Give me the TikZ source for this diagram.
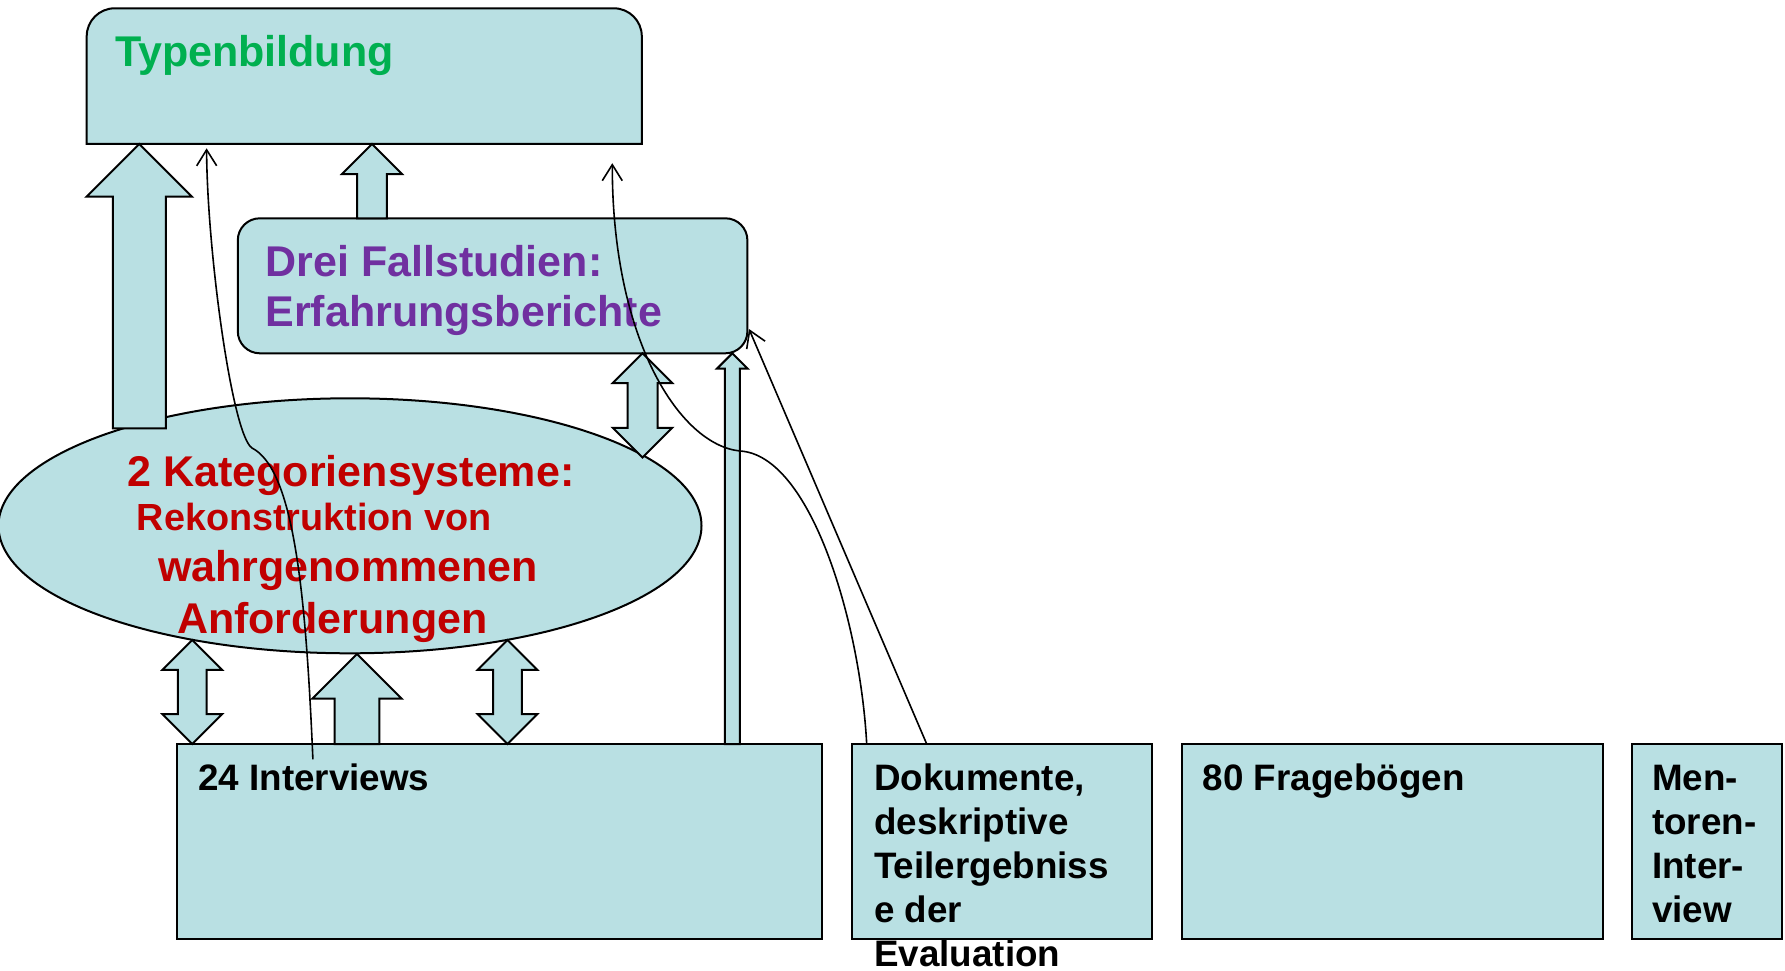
\documentclass[tikz,border=0pt]{standalone}
\usepackage{fontspec}
\setmainfont{Liberation Sans}
\usetikzlibrary{arrows.meta,calc,shapes.geometric}
\definecolor{boxfill}{RGB}{185,224,227}
\definecolor{typgreen}{RGB}{0,176,80}
\definecolor{fallpurple}{RGB}{112,48,160}
\definecolor{katred}{RGB}{192,0,0}

% block arrow pointing up: tip, base, shaft half width, head half width (= head length)
\newcommand{\blkup}[4]{%
  \draw[blockarrow] let \p1=#1, \p2=#2 in
    (\x1,\y1) -- ({\x1+#4},{\y1-#4}) -- ({\x1+#3},{\y1-#4}) -- ({\x1+#3},\y2)
    -- ({\x1-#3},\y2) -- ({\x1-#3},{\y1-#4}) -- ({\x1-#4},{\y1-#4}) -- cycle;}
% double-headed vertical block arrow: top tip, bottom tip, shaft half width, head half width
\newcommand{\blkdbl}[4]{%
  \draw[blockarrow] let \p1=#1, \p2=#2 in
    (\x1,\y1) -- ({\x1+#4},{\y1-#4}) -- ({\x1+#3},{\y1-#4}) -- ({\x1+#3},{\y2+#4})
    -- ({\x1+#4},{\y2+#4}) -- (\x1,\y2) -- ({\x1-#4},{\y2+#4}) -- ({\x1-#3},{\y2+#4})
    -- ({\x1-#3},{\y1-#4}) -- ({\x1-#4},{\y1-#4}) -- cycle;}

\begin{document}
\begin{tikzpicture}[x=1pt,y=-1pt,
  shapebox/.style={draw=black,line width=2pt,fill=boxfill,inner sep=0pt,outer sep=0pt},
  anchorbox/.style={inner sep=0pt,outer sep=0pt},
  blockarrow/.style={draw=black,line width=2pt,fill=boxfill,line join=miter},
  thinlink/.style={draw=black,line width=1.6pt,-{Straight Barb[length=16pt,width=20pt,line width=1.6pt]}},
  bigtext/.style={font=\fontsize{43}{50.7}\selectfont\bfseries,inner sep=0pt,anchor=base west},
  midtext/.style={font=\fontsize{37.8}{44}\selectfont\bfseries,inner sep=0pt,anchor=base west},
  boxtext/.style={font=\fontsize{36.8}{44}\selectfont\bfseries,inner sep=0pt,anchor=base west},
  boxlines/.style={font=\fontsize{36.8}{44}\selectfont\bfseries,inner sep=0pt,anchor=north west,align=left},
]
\useasboundingbox (0,0) rectangle (1785,971);

% Typenbildung: top corners rounded, bottom corners square
\node[anchorbox,minimum width=555.1pt,minimum height=135.7pt] (typ) at (364.25,76.15) {};
\draw[shapebox] (typ.south west) -- ([yshift=-28pt]typ.north west)
  arc[start angle=180,end angle=90,radius=28pt] -- ([xshift=-28pt]typ.north east)
  arc[start angle=90,end angle=0,radius=28pt] -- (typ.south east) -- cycle;

\node[shapebox,rounded corners=22pt,minimum width=509.6pt,minimum height=135pt] (drei) at (492.6,285.8) {};
\node[shapebox,ellipse,minimum width=703pt,minimum height=255pt] (ell) at (350,525.8) {};

% source boxes
\node[shapebox,minimum width=645.5pt,minimum height=195pt] (int) at (499.25,841.5) {};
\node[shapebox,minimum width=300.4pt,minimum height=195pt] (dok) at (1002.2,841.5) {};
\node[shapebox,minimum width=420.8pt,minimum height=195pt] (frag) at (1392.4,841.5) {};
\node[shapebox,minimum width=149.8pt,minimum height=195pt] (men) at (1706.9,841.5) {};

% block arrows
\blkup{(139.3,0 |- typ.south)}{(139.3,428.3)}{26.5}{52.7}
\blkup{(372,0 |- typ.south)}{(372,0 |- drei.north)}{14.85}{30}
\blkdbl{(642.5,0 |- drei.south)}{(642.5,457.5)}{15}{29.7}
\blkup{(732.3,0 |- drei.south)}{(732.3,0 |- int.north)}{7.5}{15.3}
\blkdbl{(192.3,640)}{(192.3,0 |- int.north)}{14.35}{29.8}
\blkup{(357,654)}{(357,0 |- int.north)}{22.35}{44.7}
\blkdbl{(507.5,640)}{(507.5,0 |- int.north)}{14.35}{29.8}

% labels
\node[bigtext,text=typgreen] (typlabel) at (114.8,66.7) {Typenbildung};
\node[bigtext,anchor=north west,align=left,text=fallpurple] (dreilabel) at (265.3,240.5)
  {\strut Drei Fallstudien:\\Erfahrungsberichte};
\node[bigtext,text=katred] (k1) at (127.4,486) {2 Kategoriensysteme:};
\node[midtext,text=katred] (k2) at (136.6,530.7) {Rekonstruktion von};
\node[bigtext,text=katred] (k3) at (157.9,581.7) {wahrgenommenen};
\node[bigtext,text=katred] (k4) at (176.8,633.3) {Anforderungen};

\node[boxtext] (intlabel) at (198,790.7) {24 Interviews};
\node[boxlines] (doklabel) at (874,759.9)
  {\strut Dokumente,\\deskriptive\\Teilergebniss\\e der\\Evaluation};
\node[boxtext] (fraglabel) at (1202.6,790.7) {80 Fragebögen};
\node[boxlines] (menlabel) at (1652,759.9) {\strut Men-\\toren-\\Inter-\\view};

% thin links
\coordinate (aStart) at (312.9,759.3);
\coordinate (aEnd) at (206.6,148.3);
\coordinate (bEnd) at (612.3,163.2);
\coordinate (cEnd) at (749,329);
\draw[thinlink] (aStart) .. controls (306,600) and (295,470) .. (252,448)
  .. controls (232,435) and (207,250) .. (aEnd);
\draw[thinlink] (866.7,0 |- dok.north) .. controls (860,620) and (810,455) .. (740,451)
  .. controls (680,445) and (612,340) .. (bEnd);
\draw[thinlink] (926.7,0 |- dok.north) -- (cEnd);
\end{tikzpicture}
\end{document}
